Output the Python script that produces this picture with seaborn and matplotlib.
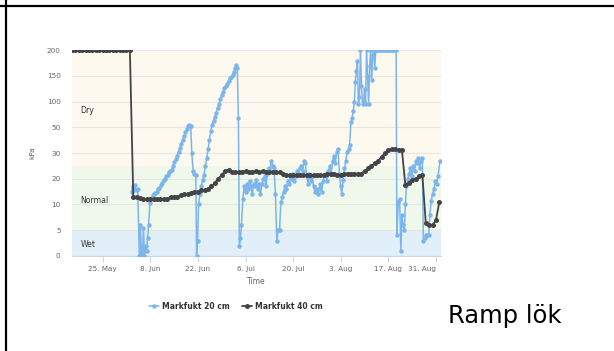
import numpy as np
import pandas as pd
import seaborn as sns
import matplotlib.pyplot as plt
import matplotlib.dates as mdates
from matplotlib.lines import Line2D

# days counted from 25 May
start = pd.Timestamp('2018-05-25')

# Markfukt 40 cm (one reading a day)
day_40 = np.arange(-9, 100)
kpa_40 = [200, 200, 200, 200, 200, 200, 200, 200, 200, 200,
          200, 200, 200, 200, 200, 200, 200, 200,
          13, 13, 12.5, 12, 12, 12, 12, 12, 12, 12, 12,
          13, 13, 13, 13.5, 14, 14, 14.5, 15, 15, 15.5, 15.5, 16,
          17, 18.5, 20, 21.5, 23, 23.5, 22.5, 22.5, 22.5, 22.5, 23,
          22.5, 22.5, 23, 22.5, 23, 22.5, 22.5, 22.5, 22.5, 22.5,
          22, 21.5, 21.5, 21.5, 21.5, 21.5, 21.5, 21.5, 21.5, 21.5,
          21.5, 21.5, 21.5, 22, 22, 22, 21.5, 21.5, 22, 22, 22, 22,
          22, 22, 23, 24, 25, 26, 27, 28.5, 30, 32, 33, 33, 32.5, 32,
          17.5, 18.5, 19.5, 20, 21, 21.3, 6.5, 6, 6, 7, 11]

# Markfukt 20 cm
day_20 = [8.5, 8.8, 9.2, 9.5, 9.9, 10.3, 10.8, 11.1, 11.4, 11.7, 12.0, 12.3,
          12.6, 12.9, 13.2, 13.5, 13.9, 14.3, 14.7, 15.1, 15.5, 15.9, 16.3,
          16.7, 17.1, 17.5, 17.9, 18.3, 18.7, 19.1, 19.5, 19.9, 20.3, 20.7,
          21.1, 21.5, 21.9, 22.3, 22.7, 23.1, 23.5, 23.9, 24.3, 24.7, 25.1,
          25.5, 25.9, 26.2, 26.6, 27.0, 27.4, 27.6, 27.9, 28.2, 28.6, 29.0,
          29.4, 29.8, 30.2, 30.6, 31.0, 31.4, 31.8, 32.2, 32.6, 33.0, 33.4,
          33.8, 34.2, 34.6, 35.0, 35.4, 35.8, 36.2, 36.6, 37.0, 37.4, 37.8,
          38.2, 38.6, 39.0, 39.3, 39.6, 39.9, 40.2, 40.5, 40.8, 41.2, 41.6,
          42.0, 42.4, 42.8, 43.2, 43.6, 44.0, 44.4, 44.8, 45.2, 45.6, 46.0,
          46.4, 46.8, 47.2, 47.6, 48.0, 48.4, 48.8, 49.2, 49.6, 50.0, 50.4,
          50.8, 51.2, 51.6, 52.0, 52.4, 52.8, 53.2, 53.6, 54.0, 54.4, 54.8,
          55.2, 55.6, 56.0, 56.4, 56.8, 57.2, 57.6, 58.0, 58.4, 58.8, 59.2,
          59.6, 60.0, 60.4, 60.8, 61.2, 61.6, 62.0, 62.4, 62.8, 63.2, 63.6,
          64.0, 64.4, 64.8, 65.2, 65.6, 66.0, 66.4, 66.8, 67.2, 67.6, 68.0,
          68.4, 68.8, 69.2, 69.6, 70.0, 70.3, 70.7, 71.1, 71.5, 71.9, 72.3,
          72.6, 73.0, 73.3, 73.7, 74.0, 74.3, 74.6, 74.9, 75.2, 75.5, 75.8,
          76.1, 76.4, 76.7, 77.0, 77.3, 77.6, 77.9, 78.2, 78.5, 78.8, 79.1,
          79.4, 79.7, 80.0, 80.3, 80.7, 81.1, 81.5, 81.9, 82.3, 82.7, 83.1,
          83.5, 83.9, 84.3, 84.7, 85.1, 85.5, 85.9, 86.3, 86.5, 86.9, 87.3,
          87.7, 88.0, 88.3, 88.7, 89.0, 89.3, 89.7, 90.1, 90.5, 90.9, 91.3,
          91.7, 92.1, 92.5, 92.8, 93.2, 93.6, 94.0, 94.3, 94.7, 95.1, 95.5,
          95.9, 96.2, 96.6, 97.0, 97.4, 97.8, 98.2, 98.6, 99.2]
kpa_20 = [15, 17, 16, 17.5, 15.5, 16, 0, 6, 0.5, 0, 5.5, 0,
          2, 1, 3.5, 6, 10.5, 12, 13.5, 14, 14.5, 15, 16,
          16.5, 17.5, 18.5, 19.5, 20, 21, 21.5, 22.5, 23, 23.5, 25,
          26.5, 27.5, 29, 31, 34, 37, 40, 43, 46, 49, 52,
          55, 53, 30, 23, 22, 21.5, 0, 3, 10, 14, 17,
          19.5, 21.5, 25, 28, 33, 40, 47, 55, 63, 70, 78,
          88, 96, 104, 112, 118, 126, 130, 134, 140, 145, 148,
          152, 158, 166, 170, 165, 68, 2, 3.5, 6, 12, 17,
          15, 18, 16, 19, 17, 14, 18, 17, 19.5, 16, 18,
          14, 18, 20, 21, 17, 22, 24, 23, 27, 25, 24,
          14, 3, 5, 5, 11, 13, 15, 17, 16, 19, 18,
          21, 20, 22, 19, 21, 23, 22, 24, 25, 23, 27,
          26, 21, 18, 22, 19, 21, 17, 15, 16, 14, 16,
          18, 15, 19, 21, 22, 19, 23, 25, 22, 27, 29,
          26, 31, 33, 22, 17, 14, 19.5, 24, 27, 31, 33,
          36, 60, 68, 82, 100, 138, 160, 178, 95, 108, 200,
          130, 95, 100, 125, 96, 200, 150, 95, 168, 200, 142,
          190, 200, 165, 200, 200, 200, 200, 200, 200, 200, 200,
          200, 200, 200, 200, 200, 200, 200, 200, 4, 11, 12,
          1, 8, 6, 5, 10, 17, 20, 22, 24, 21, 25,
          23, 27, 26, 28, 24, 27, 28, 3, 3.5, 4, 4,
          4, 8, 11.5, 14, 16, 19, 18, 21, 27]

y_ticks = [0, 5, 10, 20, 30, 50, 100, 150, 200]
band_edges = [0, 5, 25, 200]
band_names = ['Wet', 'Normal', 'Dry']
band_label_kpa = [2.2, 11.5, 82]
tick_dates = ['2018-05-25', '2018-06-08', '2018-06-22', '2018-07-06',
              '2018-07-20', '2018-08-03', '2018-08-17', '2018-08-31']

df40 = pd.DataFrame({'Time': start + pd.to_timedelta(day_40, unit='D'), 'kPa': kpa_40})
df20 = pd.DataFrame({'Time': start + pd.to_timedelta(day_20, unit='D'), 'kPa': kpa_20})

sns.set_style('white')
plt.rcParams['font.family'] = ['DejaVu Sans']

fig = plt.figure(figsize=(6.14, 3.51), dpi=100)
ax = fig.add_axes([0.1168, 0.2707, 0.601, 0.5868])

# highcharts-like uneven y axis: every tick is one step
idx = np.arange(len(y_ticks))
ax.set_yscale('function', functions=(lambda v: np.interp(v, y_ticks, idx),
                                     lambda i: np.interp(i, idx, y_ticks)))

band_colors = ['#e1eff9', '#f0f8eb', '#fdf9ee']
for lo, hi, c in zip(band_edges[:-1], band_edges[1:], band_colors):
    ax.axhspan(lo, hi, color=c, lw=0, zorder=0)
for t in y_ticks:
    ax.axhline(t, color='#e6e6e6', lw=0.8, zorder=1)

blue = '#7cb5ec'
dark = '#434348'
sns.lineplot(data=df20, x='Time', y='kPa', ax=ax, color=blue, lw=1.1,
             marker='o', markersize=3.2, markeredgewidth=0, estimator=None,
             label='Markfukt 20 cm', zorder=3)
sns.lineplot(data=df40, x='Time', y='kPa', ax=ax, color=dark, lw=1.3,
             marker='o', markersize=3.6, markeredgewidth=0, estimator=None,
             label='Markfukt 40 cm', zorder=4)

ax.set_ylim(0, 200)
ax.set_yticks(y_ticks)
ax.set_yticklabels([str(t) for t in y_ticks])
ax.set_xlim(start - pd.Timedelta(days=9.1), start + pd.Timedelta(days=99.4))
ax.set_xticks(pd.to_datetime(tick_dates))
ax.xaxis.set_major_formatter(mdates.DateFormatter('%-d. %b'))
ax.tick_params(axis='y', length=0, pad=8, labelsize=5.2, labelcolor='#666666')
ax.tick_params(axis='x', length=4, width=0.7, color='#ccd6eb', pad=3,
               labelsize=5.2, labelcolor='#666666', bottom=True)
fig.canvas.draw()
ax.get_xticklabels()[-1].set_horizontalalignment('right')
for s in ['top', 'right', 'left']:
    ax.spines[s].set_visible(False)
ax.spines['bottom'].set_color('#ccd6eb')
ax.spines['bottom'].set_linewidth(0.8)

ax.set_xlabel('Time', fontsize=5.5, color='#666666', labelpad=4)
ax.set_ylabel('kPa', fontsize=5.2, color='#666666', labelpad=8)

for name, v in zip(band_names, band_label_kpa):
    ax.text(0.024, v, name, transform=ax.get_yaxis_transform(),
            fontsize=5.6, color='#333333', va='center', ha='left', zorder=5)

leg = ax.legend(loc='center', bbox_to_anchor=(0.384, 0.128),
                bbox_transform=fig.transFigure, ncol=2, frameon=False,
                handlelength=1.3, handletextpad=0.4, columnspacing=1.6,
                prop={'size': 5.5, 'weight': 'bold'}, labelcolor='#333333')

fig.text(448 / 614, 1 - 323.5 / 351, 'Ramp lök', fontsize=17.5, color='black',
         ha='left', va='baseline')

# table cell borders of the screenshot
fig.add_artist(Line2D([0, 1], [1 - 6.2 / 351] * 2, color='black', lw=1.6))
fig.add_artist(Line2D([6.2 / 614] * 2, [0, 1], color='black', lw=1.6))

fig.savefig('out.png', dpi=100)
